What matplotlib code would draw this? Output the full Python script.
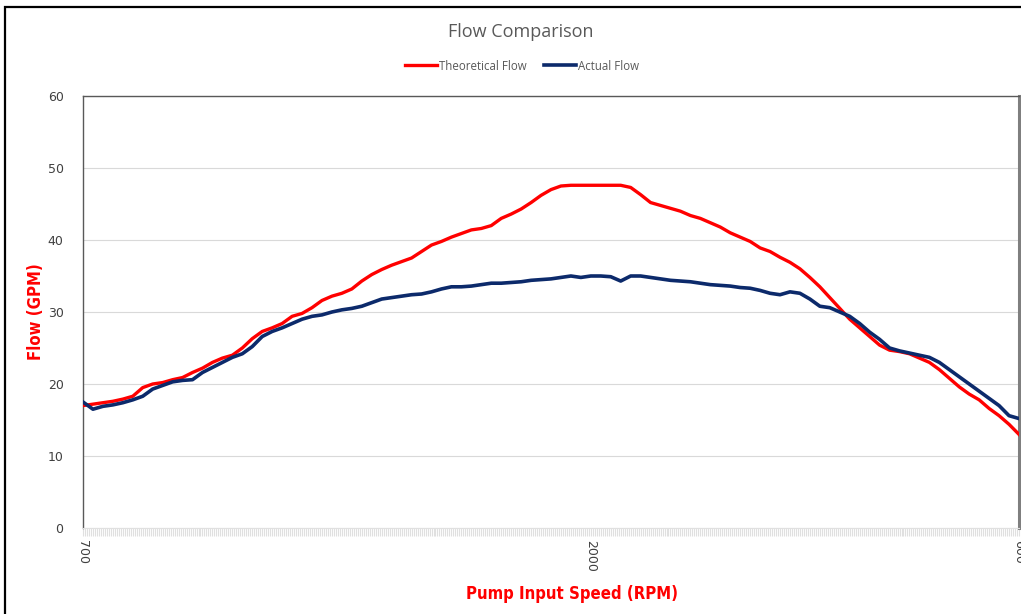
import numpy as np
import matplotlib.pyplot as plt
from matplotlib.patches import Rectangle
from matplotlib.ticker import MultipleLocator

# Flow readings (GPM), one value per sample along the speed sweep 700 -> 2000 -> 600 RPM
theoretical_flow = [
    17.0, 17.2, 17.4, 17.6, 17.9, 18.3, 19.5, 20.0, 20.2, 20.6,
    20.9, 21.6, 22.2, 23.0, 23.6, 24.0, 25.0, 26.3, 27.3, 27.8,
    28.4, 29.4, 29.8, 30.6, 31.6, 32.2, 32.6, 33.2, 34.3, 35.2,
    35.9, 36.5, 37.0, 37.5, 38.4, 39.3, 39.8, 40.4, 40.9, 41.4,
    41.6, 42.0, 43.0, 43.6, 44.3, 45.2, 46.2, 47.0, 47.5, 47.6,
    47.6, 47.6, 47.6, 47.6, 47.6, 47.3, 46.3, 45.2, 44.8, 44.4,
    44.0, 43.4, 43.0, 42.4, 41.8, 41.0, 40.4, 39.8, 38.9, 38.4,
    37.6, 36.9, 36.0, 34.8, 33.5, 32.0, 30.5, 29.0, 27.8, 26.6,
    25.4, 24.7, 24.5, 24.2, 23.6, 23.0, 22.0, 20.8, 19.6, 18.6,
    17.8, 16.6, 15.6, 14.4, 13.0,
]
actual_flow = [
    17.5, 16.5, 16.9, 17.1, 17.4, 17.8, 18.3, 19.3, 19.8, 20.3,
    20.5, 20.6, 21.6, 22.3, 23.0, 23.7, 24.2, 25.2, 26.6, 27.3,
    27.8, 28.4, 29.0, 29.4, 29.6, 30.0, 30.3, 30.5, 30.8, 31.3,
    31.8, 32.0, 32.2, 32.4, 32.5, 32.8, 33.2, 33.5, 33.5, 33.6,
    33.8, 34.0, 34.0, 34.1, 34.2, 34.4, 34.5, 34.6, 34.8, 35.0,
    34.8, 35.0, 35.0, 34.9, 34.3, 35.0, 35.0, 34.8, 34.6, 34.4,
    34.3, 34.2, 34.0, 33.8, 33.7, 33.6, 33.4, 33.3, 33.0, 32.6,
    32.4, 32.8, 32.6, 31.8, 30.8, 30.6, 30.0, 29.4, 28.4, 27.2,
    26.2, 25.0, 24.6, 24.3, 24.0, 23.7, 23.0, 22.0, 21.0, 20.0,
    19.0, 18.0, 17.0, 15.6, 15.2,
]
speed_labels = ['700', '2000', '600']
speed_label_idx = [0, 51, 94]

x = np.arange(len(theoretical_flow))

fig = plt.figure(figsize=(10.21, 6.14), dpi=100)
ax = fig.add_axes([83 / 1021, 1 - 528 / 614, (1019 - 83) / 1021, (528 - 96) / 614])

ax.plot(x, theoretical_flow, color='#ff0000', lw=2.4, label='Theoretical Flow', zorder=3)
ax.plot(x, actual_flow, color='#0c2a6b', lw=2.6, label='Actual Flow', zorder=4)

ax.set_xlim(0, len(x) - 1)
ax.set_ylim(0, 60)
ax.set_yticks(range(0, 61, 10))
ax.yaxis.grid(True, color='#d9d9d9', lw=0.8)
ax.set_axisbelow(True)
ax.tick_params(axis='y', length=0, labelsize=9, labelcolor='#404040', pad=14)

ax.set_xticks(speed_label_idx)
ax.set_xticklabels(speed_labels, rotation=-90, fontsize=9, color='#404040')
ax.xaxis.set_minor_locator(MultipleLocator(0.2))
ax.tick_params(axis='x', which='both', length=6, color='#e0e0e0', width=0.8, pad=3)

for side in ['left', 'top']:
    ax.spines[side].set_color('#595959')
    ax.spines[side].set_linewidth(1.0)
ax.spines['right'].set_color('#7f7f7f')
ax.spines['right'].set_linewidth(2.2)
ax.spines['bottom'].set_color('#e0e0e0')

fig.text(521 / 1021, 1 - 32 / 614, 'Flow Comparison', ha='center', va='center',
         fontsize=13, color='#595959', family='Open Sans')
fig.legend(loc='center', bbox_to_anchor=(522 / 1021, 1 - 66 / 614), ncol=2, frameon=False,
           prop={'family': 'Open Sans', 'size': 8.3}, labelcolor='#595959',
           handlelength=2.8, handletextpad=0.15, columnspacing=1.5)

label_font = dict(family='DejaVu Sans', stretch='condensed', weight='bold', color='#ff0000', fontsize=12)
fig.text(572 / 1021, 1 - 594 / 614, 'Pump Input Speed (RPM)', ha='center', va='center', **label_font)
fig.text(36 / 1021, 1 - 312 / 614, 'Flow (GPM)', ha='center', va='center', rotation=90, **label_font)

fig.patches.append(Rectangle((5 / 1021, -0.05), 1.1, 1 - 7 / 614 + 0.05, transform=fig.transFigure,
                             fill=False, edgecolor='black', lw=1.6))

fig.savefig('out.png', dpi=100)
